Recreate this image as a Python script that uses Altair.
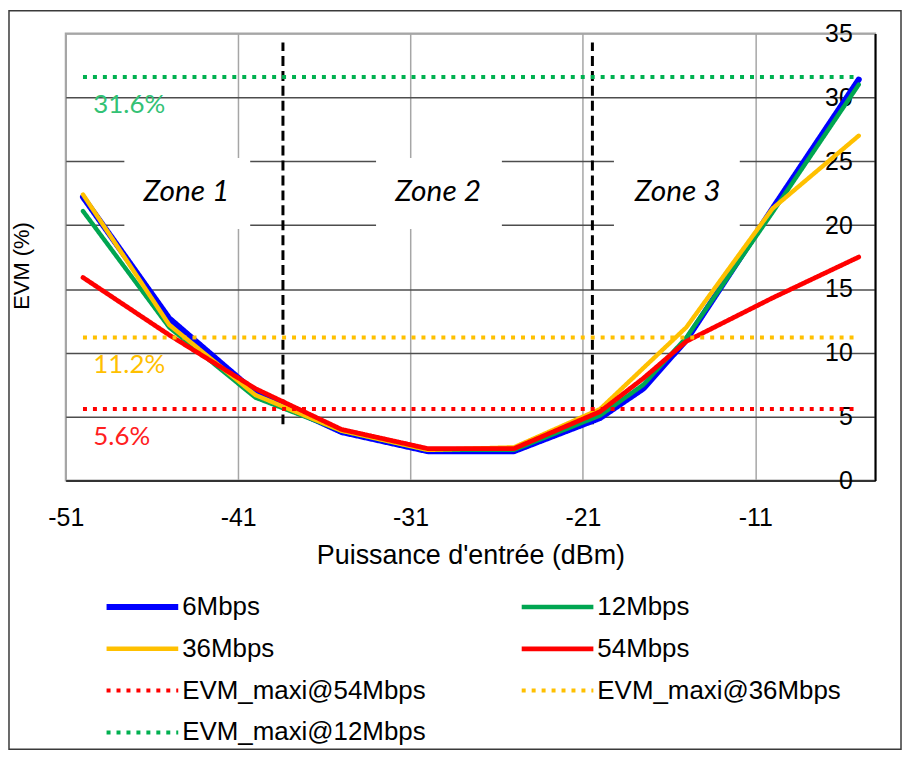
import altair as alt
import pandas as pd

# ---------------- data ----------------
x_dbm = [-50, -45, -40, -35, -30, -25, -20, -17.5, -15, -10, -5]
evm_6mbps = [22.2, 12.7, 6.9, 3.8, 2.3, 2.3, 4.9, 7.2, 11.0, 21.3, 31.4]
evm_12mbps = [21.1, 12.0, 6.5, 3.9, 2.4, 2.4, 5.1, 7.5, 11.2, 21.0, 31.0]
evm_36mbps = [22.4, 12.2, 6.7, 3.9, 2.4, 2.6, 5.6, 8.8, 12.0, 21.3, 27.0]
evm_54mbps = [15.9, 11.4, 7.2, 4.0, 2.5, 2.5, 5.4, 8.0, 10.9, 14.3, 17.5]
curve_names = ["6Mbps", "12Mbps", "36Mbps", "54Mbps"]

limit_names = ["EVM_maxi@54Mbps", "EVM_maxi@36Mbps", "EVM_maxi@12Mbps"]
limit_values = [5.6, 11.2, 31.6]
limit_labels = ["5.6%", "11.2%", "31.6%"]
limit_span = [-50, -5]
limit_label_x = -49.4

zone_names = ["Zone 1", "Zone 2", "Zone 3"]
zone_center = [-44.0, -29.4, -15.5]
zone_box_lo = [-47.6, -33.0, -19.2]
zone_box_hi = [-40.3, -25.7, -11.9]
zone_box_y = [19.7, 25.25]
zone_text_y = 22.6
zone_bounds = [-38.4, -20.45]
zone_bound_y = [4.4, 34.3]

x_ticks = [-51, -41, -31, -21, -11]
y_ticks = [0, 5, 10, 15, 20, 25, 30, 35]
x_domain = [-51, -4.05]
y_domain = [0, 35]

# legend entries are laid out column by column: this order gives the reference's rows
legend_order = ["6Mbps", "36Mbps", "EVM_maxi@54Mbps", "EVM_maxi@12Mbps",
                "12Mbps", "54Mbps", "EVM_maxi@36Mbps"]

# ---------------- styles ----------------
style_color = {
    "6Mbps": "#0000ff", "12Mbps": "#00a651", "36Mbps": "#ffc000", "54Mbps": "#ff0000",
    "EVM_maxi@54Mbps": "#ff0000", "EVM_maxi@36Mbps": "#ffc000", "EVM_maxi@12Mbps": "#00b050",
}
style_dash = {n: [1, 0] for n in curve_names}
style_dash.update({n: [4, 6] for n in limit_names})
style_width = {"6Mbps": 6, "12Mbps": 4.4, "36Mbps": 4.4, "54Mbps": 4.7,
               "EVM_maxi@54Mbps": 4, "EVM_maxi@36Mbps": 4, "EVM_maxi@12Mbps": 4}
label_colors = ["#ff2020", "#ffc000", "#33c275"]
FONT = "Liberation Sans"

curves = pd.DataFrame(
    [
        {"series": n, "x": x, "y": v}
        for n, vals in zip(curve_names, [evm_6mbps, evm_12mbps, evm_36mbps, evm_54mbps])
        for x, v in zip(x_dbm, vals)
    ]
)
limits = pd.DataFrame(
    [{"series": n, "x": x, "y": v} for n, v in zip(limit_names, limit_values) for x in limit_span]
)
limit_text = pd.DataFrame(
    {"x": [limit_label_x] * 3, "y": limit_values, "label": limit_labels, "c": label_colors}
)
zones = pd.DataFrame(
    {
        "label": zone_names,
        "xc": zone_center,
        "x": zone_box_lo,
        "x2": zone_box_hi,
        "y": [zone_box_y[0]] * 3,
        "y2": [zone_box_y[1]] * 3,
        "yt": [zone_text_y] * 3,
    }
)
bounds = pd.DataFrame({"x": zone_bounds, "y": [zone_bound_y[0]] * 2, "y2": [zone_bound_y[1]] * 2})

x_scale = alt.Scale(domain=x_domain, nice=False, zero=False)
y_scale = alt.Scale(domain=y_domain, nice=False, zero=False)

x_axis = alt.Axis(
    values=x_ticks,
    labelExpr="'' + datum.value",
    title="Puissance d'entrée (dBm)",
    labelFont=FONT,
    labelFontSize=25,
    labelColor="black",
    labelPadding=25,
    labelFlush=False,
    ticks=False,
    tickSize=0,
    domainColor="#333333",
    domainWidth=2,
    gridColor="#a6a6a6",
    gridWidth=1.5,
    titleFont=FONT,
    titleFontSize=27,
    titleFontWeight="normal",
    titleColor="black",
    titlePadding=12,
)
y_axis = alt.Axis(
    orient="right",
    values=y_ticks,
    title="EVM (%)",
    titleX=-857,
    titleY=233,
    titleAngle=270,
    titleAlign="center",
    titleBaseline="middle",
    titleFont=FONT,
    titleFontSize=22,
    titleFontWeight="normal",
    titleColor="black",
    labelFont=FONT,
    labelFontSize=25,
    labelColor="black",
    labelAlign="right",
    labelBaseline="middle",
    labelPadding=-23,
    labelFlush=False,
    labelOverlap=False,
    ticks=False,
    tickSize=0,
    domainColor="black",
    domainWidth=2,
    gridColor=alt.condition("datum.value == 35", alt.value("#a6a6a6"), alt.value("#4d4d4d")),
    gridWidth=1.5,
)

X = alt.X("x:Q", scale=x_scale, axis=x_axis)
Y = alt.Y("y:Q", scale=y_scale, axis=y_axis)

legend = alt.Legend(
    title=None,
    orient="none",
    legendX=38,
    legendY=563,
    columns=2,
    columnPadding=86,
    rowPadding=16,
    padding=0,
    symbolType="M-1,0H6.2",
    symbolSize=400,
    labelOffset=53,
    labelFont=FONT,
    labelFontSize=26,
    labelColor="black",
    labelLimit=500,
)
color_enc = alt.Color(
    "series:N",
    scale=alt.Scale(domain=legend_order, range=[style_color[n] for n in legend_order]),
    legend=legend,
)
dash_enc = alt.StrokeDash(
    "series:N",
    scale=alt.Scale(domain=legend_order, range=[style_dash[n] for n in legend_order]),
    legend=legend,
)
width_enc = alt.StrokeWidth(
    "series:N",
    scale=alt.Scale(type="ordinal", domain=legend_order, range=[style_width[n] for n in legend_order]),
    legend=legend,
)

layers = []

# white boxes behind zone labels
layers.append(
    alt.Chart(zones)
    .mark_rect(fill="white")
    .encode(x=X, x2="x2:Q", y=Y, y2="y2:Q")
)
# zone boundaries
layers.append(
    alt.Chart(bounds)
    .mark_rule(color="black", strokeWidth=3, strokeDash=[10, 5])
    .encode(x=X, y=Y, y2="y2:Q")
)
# zone labels
layers.append(
    alt.Chart(zones)
    .mark_text(font="Lato", fontStyle="italic", fontSize=30, color="black", align="center", baseline="middle")
    .encode(x=alt.X("xc:Q", scale=x_scale, axis=x_axis), y=alt.Y("yt:Q", scale=y_scale, axis=y_axis), text="label:N")
)
# curves (one layer each, for drawing order)
for name in curve_names:
    layers.append(
        alt.Chart(curves)
        .transform_filter(alt.datum.series == name)
        .mark_line(strokeCap="round", strokeJoin="round")
        .encode(x=X, y=Y, color=color_enc, strokeDash=dash_enc, strokeWidth=width_enc)
    )
# EVM limit lines
for name in limit_names:
    layers.append(
        alt.Chart(limits)
        .transform_filter(alt.datum.series == name)
        .mark_line(strokeCap="butt")
        .encode(x=X, y=Y, color=color_enc, strokeDash=dash_enc, strokeWidth=width_enc)
    )
# limit labels
layers.append(
    alt.Chart(limit_text)
    .mark_text(font="Lato", fontSize=26, align="left", baseline="middle", dy=28)
    .encode(x=X, y=Y, text="label:N", color=alt.Color("c:N", scale=None))
)
# outer frame
layers.append(
    alt.Chart(pd.DataFrame({"k": [0]}))
    .mark_rect(fill="transparent", stroke="#3a3a3a", strokeWidth=1.5)
    .encode(x=alt.value(-57), x2=alt.value(839), y=alt.value(-23), y2=alt.value(719))
)

chart = (
    alt.layer(*layers)
    .properties(
        width=813,
        height=449,
        autosize=alt.AutoSizeParams(type="none"),
        padding={"left": 58, "top": 24, "right": 27, "bottom": 271},
        background="white",
    )
    .configure_view(stroke="#a6a6a6", strokeWidth=2)
)

chart.save("out.html", embed_options={"renderer": "svg", "actions": False})
